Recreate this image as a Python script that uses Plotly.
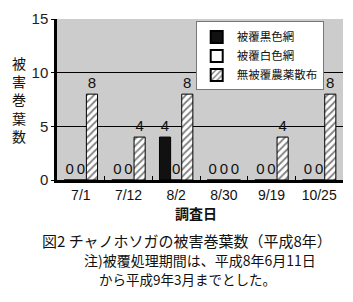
import plotly.graph_objects as go

dates = ["7/1", "7/12", "8/2", "8/30", "9/19", "10/25"]
black_net = [0, 0, 4, 0, 0, 0]
white_net = [0, 0, 0, 0, 0, 0]
no_cover = [8, 4, 8, 0, 4, 8]
series_names = ["被覆黒色網", "被覆白色網", "無被覆農薬散布"]
y_ticks = [0, 5, 10, 15]

JP = "Noto Sans CJK JP"
NUM = "Liberation Sans, Noto Sans CJK JP"

fig = go.Figure()
fig.add_trace(go.Bar(
    x=dates, y=black_net, name=series_names[0],
    marker=dict(color="#111111", line=dict(color="#000000", width=1)),
    text=black_net, textposition="outside", cliponaxis=False,
    textfont=dict(family=NUM, size=15, color="#111"),
))
fig.add_trace(go.Bar(
    x=dates, y=white_net, name=series_names[1],
    marker=dict(color="#ffffff", line=dict(color="#000000", width=1)),
    text=white_net, textposition="outside", cliponaxis=False,
    textfont=dict(family=NUM, size=15, color="#111"),
))
fig.add_trace(go.Bar(
    x=dates, y=no_cover, name=series_names[2],
    marker=dict(color="#ffffff", line=dict(color="#000000", width=1),
                pattern=dict(shape="/", fgcolor="#000000", bgcolor="#ffffff",
                             size=5, solidity=0.35)),
    text=no_cover, textposition="outside", cliponaxis=False,
    textfont=dict(family=NUM, size=15, color="#111"),
))

fig.update_layout(
    width=353, height=302,
    margin=dict(l=57, r=10, t=15, b=122),
    paper_bgcolor="#ffffff",
    plot_bgcolor="#cccccc",
    barmode="group",
    bargap=0.3, bargroupgap=0,
    showlegend=True,
    legend=dict(
        x=0.485, y=0.985, xanchor="left", yanchor="top",
        bgcolor="#ffffff", bordercolor="#777777", borderwidth=1,
        font=dict(family=JP, size=11.5, color="#111"),
        itemsizing="constant", tracegroupgap=0, itemwidth=30,
    ),
    font=dict(family=JP, color="#111"),
)
fig.update_xaxes(
    type="category",
    showline=True, linecolor="#000000", linewidth=2.5,
    ticks="inside", tickson="boundaries", ticklen=4, tickcolor="#000",
    tickfont=dict(family=NUM, size=14, color="#111"),
    showgrid=False,
)
fig.update_yaxes(
    range=[0, 15], tickvals=y_ticks,
    showline=True, linecolor="#000000", linewidth=2.5,
    ticks="outside", ticklen=3, tickcolor="#000",
    tickfont=dict(family=NUM, size=15, color="#222"),
    showgrid=True, gridcolor="#000000", gridwidth=1,
    zeroline=False,
)

annotations = [
    dict(text="被<br>害<br>巻<br>葉<br>数", x=19, y=97, size=14, bold=False),
    dict(text="調査日", x=196, y=214, size=14, bold=True),
    dict(text="図2 チャノホソガの被害巻葉数（平成8年）", x=187, y=242, size=15, bold=False),
    dict(text="注)被覆処理期間は、平成8年6月11日", x=200, y=262, size=14, bold=False),
    dict(text="から平成9年3月までとした。", x=187, y=281, size=13.5, bold=False),
]
W, H = 353, 302
pl, pr, pt, pb = 57, 10, 15, 122
pw, ph = W - pl - pr, H - pt - pb
for a in annotations:
    fig.add_annotation(
        text=a["text"], xref="paper", yref="paper",
        x=(a["x"] - pl) / pw, y=(H - pb - a["y"]) / ph,
        xanchor="center", yanchor="middle", showarrow=False,
        font=dict(family=JP, size=a["size"], color="#111",
                  weight="bold" if a["bold"] else "normal"),
    )

fig.write_html("out.html")
